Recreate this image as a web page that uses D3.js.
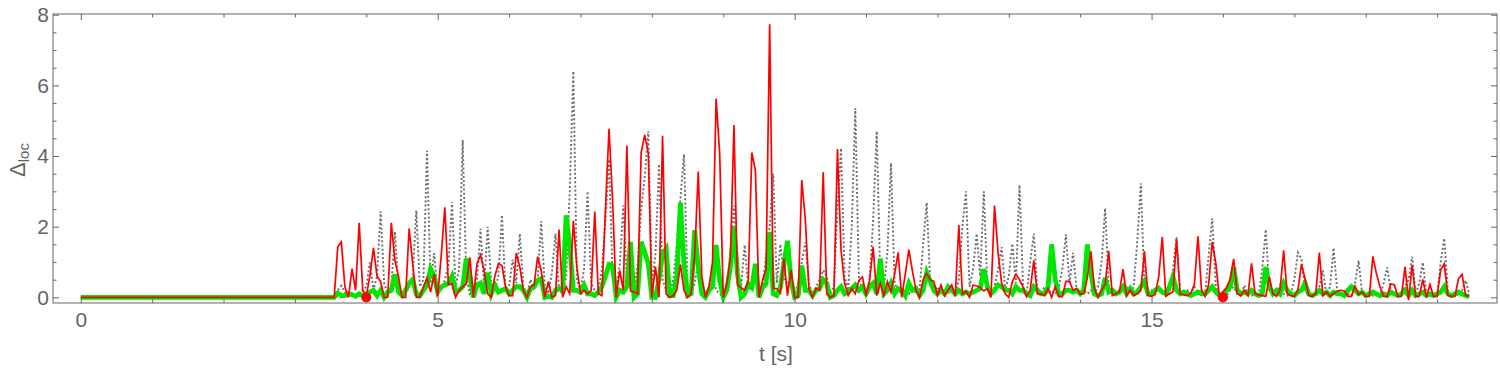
<!DOCTYPE html>
<html>
<head>
<meta charset="utf-8">
<script src="https://d3js.org/d3.v7.min.js"></script>
<style>
  body { margin: 0; background: #fff; }
  text { font-family: "Liberation Sans", Arial, sans-serif; }
</style>
</head>
<body>
<div id="chart"></div>
<script>
// sampled signal: flat zero until 3.5 s, then one value every 0.05 s
const T_START = 3.5
const DT = 0.05

const grayVals = [
  0,0.05,0.2,0.33,0.15,0.05,0.1,0.05,0.1,0.2, 0.3,1.0,0.2,0.6,2.43,0.4,0.1,0.3,1.86,0.3,
  0.05,0.1,0.3,0.6,2.46,0.3,0.5,4.15,0.4,1.25, 0.1,0.2,0.5,0.9,2.7,0.3,0.8,4.45,0.6,0.1,
  0.2,0.5,1.94,0.3,2.0,0.4,0.2,0.6,2.33,0.2, 0.3,1.07,0.4,1.8,0.3,0.1,0.5,0.2,0.5,2.15,
  0.3,0.1,0.7,1.8,0.2,0.1,0.6,3.0,6.4,0.5, 0.2,0.8,3.0,0.4,0.2,0.1,0.8,2.2,3.9,0.6,
  0.2,0.9,2.6,0.5,0.3,0.2,0.9,2.5,3.4,4.7, 0.4,1.2,3.77,0.5,0.2,0.1,0.5,1.5,2.8,4.05,
  0.3,0.1,0.4,1.0,0.2,0.1,0.3,0.6,0.2,0.1, 0.0,0.4,1.2,2.6,0.8,0.3,1.48,0.3,0.2,0.6,
  0.1,0.3,1.2,2.0,3.5,0.4,1.5,0.6,0.3,0.7, 0.1,0.4,1.0,1.56,0.4,0.1,0.3,0.5,0.77,0.6,
  0.1,0.3,2.5,4.22,0.6,0.2,2.0,5.35,0.5,0.2, 0.1,0.5,2.2,4.7,0.5,0.2,1.3,3.8,0.4,0.2,
  0.1,0.2,0.1,0.3,0.1,0.2,1.5,2.68,0.4,0.1, 0.3,0.1,0.2,0.1,0.3,0.1,0.5,2.0,3.0,0.3,
  0.8,1.8,0.6,3.0,0.3,0.1,0.3,0.8,1.42,0.2, 0.6,1.52,0.4,3.18,0.3,0.1,1.0,1.8,0.2,0.1,
  0.3,0.1,0.2,0.1,0.3,0.8,1.78,0.4,1.26,0.2, 0.1,0.2,0.1,0.2,0.1,0.3,1.0,2.52,0.3,0.1,
  0.2,0.1,0.2,0.34,0.1,0.3,1.6,3.23,0.3,0.1, 0.2,0.1,0.3,0.1,0.2,0.1,0.8,1.7,0.2,0.1,
  0.2,0.1,0.3,0.1,0.2,0.1,1.2,2.23,0.3,0.05, 0.1,0.05,0.2,0.3,0.1,0.05,0.34,0.1,0.05,0.1,
  0.05,0.8,1.92,0.2,0.1,0.05,0.34,0.1,0.05,0.1, 0.5,1.27,1.1,0.2,0.05,0.1,0.05,0.3,0.76,0.1,
  0.3,1.4,0.2,0.1,0.05,0.1,0.05,0.4,1.04,0.1, 0.05,0.1,0.05,0.1,0.05,0.4,0.85,0.2,0.1,0.05,
  0.1,0.3,0.5,1.15,0.1,0.4,0.99,0.1,0.05,0.1, 0.05,1.0,1.67,0.2,0.05,0.1,0.05,0.2,0.48,0.1
]

const greenVals = [
  0,0,0.12,0.05,0.05,0.1,0.08,0.03,0.1,0.05, 0.1,0.15,0.2,0.05,0.2,0.0,0.15,0.2,0.65,0.15,
  0.05,0.2,0.4,0.5,0.1,0.05,0.2,0.35,0.8,0.6, 0.15,0.3,0.35,0.4,0.6,0.15,0.2,0.3,1.1,0.6,
  0.0,0.35,0.4,0.1,0.7,0.1,0.35,0.15,0.2,0.25, 0.1,0.2,0.3,0.3,0.2,0.0,0.25,0.3,0.48,0.53,
  0.0,0.03,0.0,0.2,0.25,0.2,2.32,1.45,0.2,0.2, 0.15,0.35,0.1,0.1,0.05,0.15,0.3,0.6,0.93,0.9,
  0.0,0.2,0.15,0.3,1.57,0.0,0.1,1.57,1.28,0.95, 0.0,0.0,0.5,1.23,1.38,0.05,0.05,0.6,2.68,0.95,
  0.05,0.1,1.9,0.85,0.1,0.0,0.2,0.3,1.48,0.48, 0.0,0.2,0.85,2.0,0.65,0.0,0.1,0.38,0.28,0.95,
  0.0,0.28,0.38,1.85,0.1,0.05,0.28,0.95,1.6,0.48, 0.0,0.05,0.9,0.2,0.2,0.05,0.2,0.25,0.5,0.4,
  0.0,0.05,0.2,0.3,0.1,0.15,0.25,0.35,0.2,0.3, 0.1,0.3,0.4,0.1,1.1,0.1,0.2,0.4,0.1,0.25,
  0.2,0.05,0.4,0.2,0.25,0.05,0.2,0.7,0.45,0.2, 0.1,0.2,0.1,0.3,0.2,0.1,0.2,0.1,0.15,0.1,
  0.15,0.2,0.25,0.8,0.3,0.1,0.2,0.35,0.3,0.2, 0.2,0.1,0.3,0.2,0.2,0.1,0.05,0.3,0.2,0.1,
  0.1,0.3,1.5,0.5,0.1,0.1,0.2,0.2,0.15,0.2, 0.1,0.2,1.5,0.7,0.1,0.05,0.1,0.55,0.15,0.2,
  0.1,0.15,0.3,0.1,0.25,0.1,0.15,0.3,0.45,0.1, 0.1,0.2,0.25,0.15,0.1,0.3,0.58,0.2,0.1,0.15,
  0.1,0.05,0.1,0.15,0.1,0.1,0.2,0.3,0.15,0.05, 0.1,0.2,0.3,0.85,0.2,0.1,0.15,0.1,0.2,0.1,
  0.05,0.1,0.86,0.3,0.1,0.2,0.1,0.4,0.2,0.1, 0.05,0.15,0.2,0.4,0.1,0.05,0.1,0.2,0.1,0.15,
  0.05,0.15,0.1,0.1,0.05,0.2,0.3,0.2,0.1,0.15, 0.05,0.1,0.15,0.1,0.05,0.1,0.05,0.15,0.1,0.05,
  0.1,0.2,0.05,0.2,0.05,0.1,0.15,0.05,0.1,0.05, 0.1,0.15,0.3,0.1,0.05,0.1,0.15,0.1,0.05,0.02
]

const redVals = [
  0,0,1.43,1.57,0.29,0,0.81,0.2,2.11,0.2, 0.05,0.6,1.4,0.6,0.45,0,0,2.11,1.05,0.6,
  0,0,1.95,0.95,0,0,0.3,0.55,0.15,0.65, 0.02,1.2,2.55,0.36,0.38,0,0.2,0.3,0.38,1.13,
  0,0.95,1.2,0.75,0.1,0,0.6,0.95,0.9,0.3, 0.05,0.05,1.25,0.86,0.2,0,0.3,0.35,1.15,0.76,
  0,0.45,0,0.05,1.92,0,0.3,0.1,2.17,0.85, 0.1,0.2,0.1,0.2,2.43,0.1,0.05,2.5,4.77,2.75,
  0,0.76,0.2,4.3,0.18,0.15,0.1,4.1,4.6,4.08, 0,0.87,0,4.57,0.1,0,0.05,0.2,0.93,0.2,
  0,0.1,1.2,3.56,0.6,0,0.3,1.0,5.62,4.08, 0,0.39,1.1,4.88,0.35,0.27,0.2,0.44,4.1,3.6,
  0,0.48,0.8,7.73,0.25,0.25,0.12,1.1,0.05,0.78, 0,0,3.32,2.2,0.25,0,0.25,0.2,3.54,0.1,
  0,0.05,4.2,1.34,0.39,0.05,0.25,0.1,0.48,0.58, 0.05,0.48,1.43,0.05,0.39,0.05,0.44,0.15,0.65,1.27,
  0,0.65,1.35,0.75,0.2,0,0.5,0.67,0.5,0.45, 0.05,0.35,0.05,0.2,0.35,0.03,2.05,0.1,0.17,0,
  0.35,0.32,0.28,0.18,0.25,0,2.6,1.25,0.4,0.1, 0,0.45,0.65,0.5,0.28,0.02,0.2,1.05,0.1,0.1,
  0.05,0.25,0,0.3,0.02,0.02,0.45,0.45,0.2,0.25, 0.1,0.1,0.55,1.3,0.25,0,0.2,0.37,1.31,0.05,
  0.1,0.15,0.8,0.05,0.2,0.05,0.1,0.2,1.31,0.05, 0.03,0.08,0.58,1.71,0.03,0.1,0.15,1.64,0.1,0.07,
  0.05,0.12,0.37,1.73,0.2,0.03,0.37,1.57,0.96,0, 0.15,0.28,0.5,1.09,0.1,0.05,0.2,0.05,0.96,0.1,
  0.07,0.05,0.03,0.58,0.1,0.03,0.2,1.33,0.1,0.05, 0.03,0.2,0.94,0.52,0.05,0.03,0.1,1.27,0.05,0.15,
  0.03,0.1,0.18,0.2,0.18,0.03,0.03,0.32,0.08,0.15, 0.03,0.03,1.16,0.67,0.3,0.03,0.03,0.38,0.36,0.03,
  0.03,0.86,-0.08,0.91,0.03,0.03,0.51,0,0.36,0.03, 0.03,0.78,0.95,0.05,0.03,0.03,0.53,0.65,0.05,0.03
]

// marked instants
const dotT = [4, 16]
const dotV = [0, 0]

const xMajor = [0, 5, 10, 15]
const xMinor = d3.range(0, 20, 1)
const yMajor = [0, 2, 4, 6, 8]
const yMinor = d3.range(0, 8.01, 0.5)

const W = 1500, H = 371
const margin = {top: 14, right: 3, bottom: 68, left: 53}
const w = W - margin.left - margin.right
const h = H - margin.top - margin.bottom

const FRAME = '#666666'

// turn value arrays into [t, v] pairs, with the flat start at t=0
function toPts(vals) {
  return [[0, 0]].concat(vals.map((v, i) => [T_START + i * DT, v]))
}

const x = d3.scaleLinear().domain([-0.389, 19.839]).range([0, w])
const y = d3.scaleLinear().domain([-0.16, 8.02]).range([h, 0])

const svg = d3.select('#chart').append('svg')
    .attr('width', W)
    .attr('height', H)

const g = svg.append('g')
    .attr('transform', `translate(${margin.left},${margin.top})`)

g.append('clipPath').attr('id', 'clip')
  .append('rect').attr('width', w).attr('height', h)

const line = d3.line().x(d => x(d[0])).y(d => y(d[1]))

const plot = g.append('g').attr('clip-path', 'url(#clip)')

plot.append('path')
    .datum(toPts(grayVals))
    .attr('d', line)
    .attr('fill', 'none')
    .attr('stroke', '#6e6e6e')
    .attr('stroke-width', 1.9)
    .attr('stroke-dasharray', '2,2.2')

plot.append('path')
    .datum(toPts(greenVals))
    .attr('d', line)
    .attr('fill', 'none')
    .attr('stroke', '#00e600')
    .attr('stroke-width', 4.8)

plot.append('path')
    .datum(toPts(redVals))
    .attr('d', line)
    .attr('fill', 'none')
    .attr('stroke', '#ff0000')
    .attr('stroke-width', 1.7)

plot.selectAll('circle.dot')
    .data(dotT)
    .enter().append('circle')
    .attr('class', 'dot')
    .attr('cx', d => x(d))
    .attr('cy', (d, i) => y(dotV[i]))
    .attr('r', 5)
    .attr('fill', '#ff0000')

// frame ticks, all pointing inwards
function ticks(axis, tr, size) {
  const a = g.append('g').attr('transform', tr).call(axis.tickSize(-size).tickSizeOuter(0))
  a.select('.domain').remove()
  a.selectAll('line').attr('stroke', FRAME)
  return a
}

const fmt = d3.format('d')
const xb = ticks(d3.axisBottom(x).tickValues(xMajor).tickFormat(fmt).tickPadding(9), `translate(0,${h})`, 6)
ticks(d3.axisBottom(x).tickValues(xMinor.filter(v => v % 5)).tickFormat(''), `translate(0,${h})`, 3.5)
ticks(d3.axisTop(x).tickValues(xMajor).tickFormat(''), 'translate(0,0)', 6)
ticks(d3.axisTop(x).tickValues(xMinor.filter(v => v % 5)).tickFormat(''), 'translate(0,0)', 3.5)

const yl = ticks(d3.axisLeft(y).tickValues(yMajor).tickFormat(fmt).tickPadding(4), 'translate(0,0)', 6)
ticks(d3.axisLeft(y).tickValues(yMinor.filter(v => v % 2)).tickFormat(''), 'translate(0,0)', 3.5)
ticks(d3.axisRight(y).tickValues(yMajor).tickFormat(''), `translate(${w},0)`, 6)
ticks(d3.axisRight(y).tickValues(yMinor.filter(v => v % 2)).tickFormat(''), `translate(${w},0)`, 3.5)

xb.selectAll('text').attr('fill', '#646464').style('font-size', '21px')
yl.selectAll('text').attr('fill', '#646464').style('font-size', '21px')

g.append('rect')
    .attr('width', w)
    .attr('height', h)
    .attr('fill', 'none')
    .attr('stroke', FRAME)
    .attr('stroke-width', 1)

// axis labels
svg.append('text')
    .attr('x', 776)
    .attr('y', 361)
    .attr('text-anchor', 'middle')
    .attr('fill', '#646464')
    .style('font-size', '21px')
    .text('t [s]')

const ylab = svg.append('text')
    .attr('transform', 'translate(25,160) rotate(-90)')
    .attr('text-anchor', 'middle')
    .attr('fill', '#646464')
    .style('font-size', '22px')
ylab.append('tspan').text('Δ')
ylab.append('tspan').attr('dy', 4).style('font-size', '15px').text('loc')
</script>
</body>
</html>
